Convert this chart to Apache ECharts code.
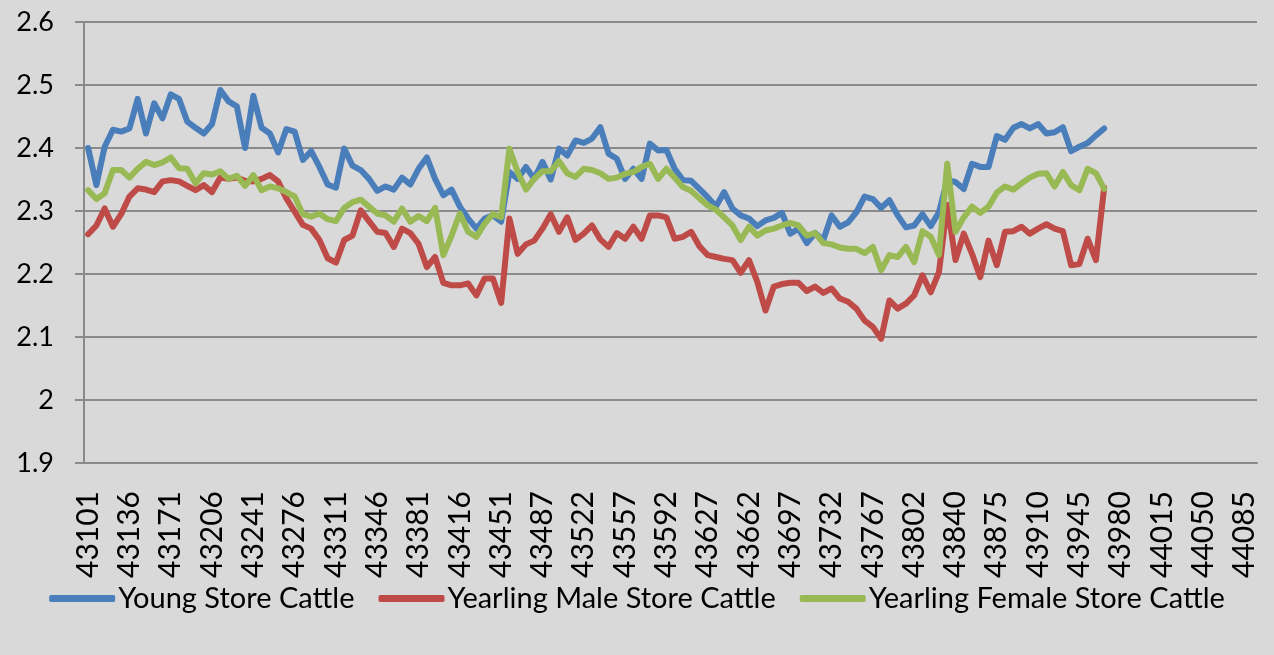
<!DOCTYPE html>
<html>
<head>
<meta charset="utf-8">
<script src="https://cdn.jsdelivr.net/npm/echarts@6/dist/echarts.min.js"></script>
<style>
  html, body { margin: 0; padding: 0; background: #d9d9d9; }
  #chart { width: 1274px; height: 655px; }
</style>
</head>
<body>
<div id="chart"></div>
<script>
// weekly date serials (Excel) used as categories
const dates = [
  43101, 43108, 43115, 43122, 43129, 43136, 43143, 43150, 43157, 43164,
  43171, 43178, 43185, 43192, 43199, 43206, 43213, 43220, 43227, 43234,
  43241, 43248, 43255, 43262, 43269, 43276, 43283, 43290, 43297, 43304,
  43311, 43318, 43325, 43332, 43339, 43346, 43353, 43360, 43367, 43374,
  43381, 43388, 43395, 43402, 43409, 43416, 43423, 43430, 43437, 43444,
  43451, 43458, 43465, 43473, 43480, 43487, 43494, 43501, 43508, 43515,
  43522, 43529, 43536, 43543, 43550, 43557, 43564, 43571, 43578, 43585,
  43592, 43599, 43606, 43613, 43620, 43627, 43634, 43641, 43648, 43655,
  43662, 43669, 43676, 43683, 43690, 43697, 43704, 43711, 43718, 43725,
  43732, 43739, 43746, 43753, 43760, 43767, 43774, 43781, 43788, 43795,
  43802, 43809, 43816, 43823, 43833, 43840, 43847, 43854, 43861, 43868,
  43875, 43882, 43889, 43896, 43903, 43910, 43917, 43924, 43931, 43938,
  43945, 43952, 43959, 43966, 43973, 43980, 43987, 43994, 44001, 44008,
  44015, 44022, 44029, 44036, 44043, 44050, 44057, 44064, 44071, 44078,
  44085, 44092
]

const youngStore = [
  2.400, 2.341, 2.402, 2.429, 2.426, 2.431, 2.478, 2.423, 2.471, 2.447,
  2.485, 2.478, 2.442, 2.432, 2.423, 2.438, 2.492, 2.474, 2.466, 2.400,
  2.483, 2.432, 2.423, 2.393, 2.430, 2.426, 2.381, 2.395, 2.370, 2.342,
  2.337, 2.399, 2.372, 2.365, 2.351, 2.332, 2.339, 2.334, 2.353, 2.342,
  2.367, 2.385, 2.351, 2.325, 2.334, 2.307, 2.288, 2.272, 2.288, 2.293,
  2.283, 2.362, 2.351, 2.370, 2.351, 2.378, 2.350, 2.399, 2.388, 2.412,
  2.408, 2.415, 2.433, 2.391, 2.383, 2.351, 2.367, 2.351, 2.407, 2.396,
  2.397, 2.367, 2.349, 2.348, 2.335, 2.322, 2.307, 2.330, 2.304, 2.293,
  2.288, 2.276, 2.285, 2.289, 2.297, 2.264, 2.272, 2.249, 2.265, 2.254,
  2.293, 2.275, 2.282, 2.298, 2.323, 2.319, 2.305, 2.317, 2.293, 2.274,
  2.277, 2.295, 2.276, 2.298, 2.349, 2.346, 2.335, 2.375, 2.370, 2.370,
  2.419, 2.413, 2.432, 2.438, 2.431, 2.438, 2.423, 2.425, 2.433, 2.395,
  2.402, 2.408, 2.420, 2.431
]

const yearlingMale = [
  2.263, 2.277, 2.304, 2.275, 2.295, 2.323, 2.336, 2.334, 2.330, 2.347,
  2.349, 2.347, 2.340, 2.333, 2.341, 2.330, 2.353, 2.351, 2.353, 2.348,
  2.347, 2.351, 2.357, 2.347, 2.320, 2.299, 2.278, 2.272, 2.254, 2.225,
  2.218, 2.254, 2.261, 2.301, 2.284, 2.267, 2.265, 2.243, 2.272, 2.265,
  2.248, 2.211, 2.227, 2.186, 2.182, 2.182, 2.185, 2.166, 2.193, 2.193,
  2.154, 2.288, 2.232, 2.247, 2.253, 2.272, 2.295, 2.267, 2.290, 2.254,
  2.264, 2.277, 2.255, 2.243, 2.265, 2.256, 2.275, 2.256, 2.293, 2.293,
  2.290, 2.256, 2.259, 2.267, 2.244, 2.230, 2.227, 2.224, 2.222, 2.202,
  2.222, 2.188, 2.142, 2.180, 2.184, 2.186, 2.186, 2.173, 2.180, 2.170,
  2.177, 2.161, 2.156, 2.145, 2.126, 2.116, 2.097, 2.158, 2.145, 2.153,
  2.166, 2.198, 2.171, 2.203, 2.310, 2.222, 2.264, 2.232, 2.195, 2.253,
  2.214, 2.267, 2.268, 2.275, 2.264, 2.272, 2.279, 2.272, 2.268, 2.214,
  2.216, 2.256, 2.222, 2.337
]

const yearlingFemale = [
  2.333, 2.319, 2.328, 2.365, 2.365, 2.353, 2.367, 2.378, 2.373, 2.377,
  2.385, 2.368, 2.367, 2.344, 2.360, 2.358, 2.363, 2.351, 2.356, 2.340,
  2.357, 2.333, 2.339, 2.336, 2.330, 2.323, 2.295, 2.291, 2.296, 2.287,
  2.284, 2.305, 2.314, 2.318, 2.307, 2.296, 2.293, 2.283, 2.304, 2.283,
  2.292, 2.284, 2.305, 2.230, 2.261, 2.296, 2.267, 2.259, 2.280, 2.295,
  2.290, 2.399, 2.362, 2.334, 2.351, 2.363, 2.363, 2.379, 2.360, 2.354,
  2.367, 2.365, 2.360, 2.351, 2.353, 2.359, 2.362, 2.370, 2.375, 2.351,
  2.367, 2.353, 2.338, 2.332, 2.320, 2.309, 2.302, 2.290, 2.277, 2.254,
  2.275, 2.261, 2.269, 2.272, 2.277, 2.281, 2.277, 2.261, 2.265, 2.249,
  2.247, 2.242, 2.240, 2.240, 2.233, 2.243, 2.206, 2.230, 2.227, 2.243,
  2.219, 2.268, 2.259, 2.230, 2.375, 2.267, 2.290, 2.307, 2.297, 2.307,
  2.329, 2.339, 2.334, 2.344, 2.353, 2.359, 2.360, 2.339, 2.362, 2.341,
  2.333, 2.367, 2.360, 2.335
]

const seriesNames = ['Young Store Cattle', 'Yearling Male Store Cattle', 'Yearling Female Store Cattle']
const seriesColors = ['#4a7ebb', '#be4b48', '#98b954']

const FONT = 'Lato'
const GRID_COLOR = '#8a8a8a'

const chart = echarts.init(document.getElementById('chart'))

function lineSeries(name, data, color) {
  return {
    name,
    type: 'line',
    data,
    symbol: 'none',
    smooth: false,
    animation: false,
    lineStyle: { width: 6, color, cap: 'round', join: 'round' },
    itemStyle: { color },
  }
}

chart.setOption({
  backgroundColor: '#d9d9d9',
  animation: false,
  grid: { left: 84, right: 17, top: 22, bottom: 192 },
  legend: {
    top: 579,
    left: 'center',
    icon: 'roundRect',
    itemWidth: 66,
    itemHeight: 7,
    itemGap: 24,
    textStyle: { fontFamily: FONT, fontSize: 29, color: '#000', padding: [0, 0, 0, -2] },
    data: seriesNames,
  },
  xAxis: {
    type: 'category',
    data: dates,
    boundaryGap: true,
    axisLine: { lineStyle: { color: GRID_COLOR, width: 2 } },
    axisTick: { interval: 0, length: 8, lineStyle: { color: GRID_COLOR, width: 1.5 } },
    axisLabel: {
      interval: 4,
      rotate: 90,
      margin: 28,
      fontFamily: FONT,
      fontSize: 30,
      color: '#000',
    },
    splitLine: { show: false },
  },
  yAxis: {
    type: 'value',
    min: 1.9,
    max: 2.6,
    interval: 0.1,
    axisLine: { show: true, lineStyle: { color: GRID_COLOR, width: 2 } },
    axisTick: { show: true, length: 9, lineStyle: { color: GRID_COLOR, width: 2 } },
    axisLabel: { margin: 30, fontFamily: FONT, fontSize: 27, color: '#000' },
    splitLine: { lineStyle: { color: GRID_COLOR, width: 2 } },
  },
  series: [
    lineSeries(seriesNames[0], youngStore, seriesColors[0]),
    lineSeries(seriesNames[1], yearlingMale, seriesColors[1]),
    lineSeries(seriesNames[2], yearlingFemale, seriesColors[2]),
  ],
})
</script>
</body>
</html>
